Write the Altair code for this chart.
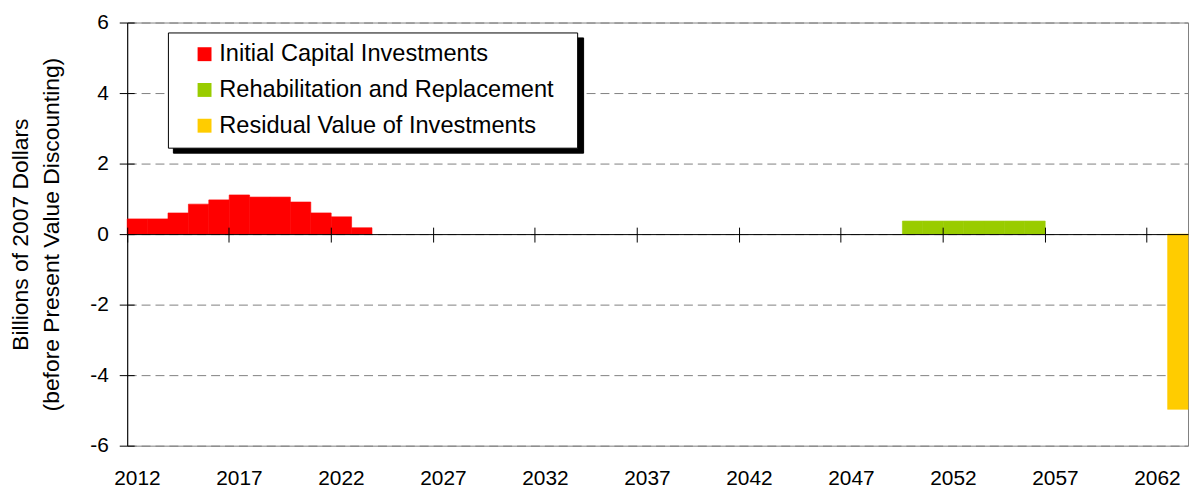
import altair as alt
import pandas as pd

# ---- data ----
all_years = list(range(2012, 2064))
label_years = [2012, 2017, 2022, 2027, 2032, 2037, 2042, 2047, 2052, 2057, 2062]

initial_years = [2012, 2013, 2014, 2015, 2016, 2017, 2018, 2019, 2020, 2021, 2022, 2023]
initial_values = [0.43, 0.43, 0.60, 0.85, 0.97, 1.11, 1.05, 1.05, 0.91, 0.60, 0.49, 0.18]

rehab_years = [2050, 2051, 2052, 2053, 2054, 2055, 2056]
rehab_values = [0.37, 0.37, 0.37, 0.37, 0.37, 0.37, 0.37]

residual_years = [2063]
residual_values = [-4.97]

series_names = ["Initial Capital Investments",
                "Rehabilitation and Replacement",
                "Residual Value of Investments"]
series_colors = ["#FF0000", "#99CC00", "#FFCC00"]

y_ticks = [-6, -4, -2, 0, 2, 4, 6]
y_title = ["Billions of 2007 Dollars", "(before Present Value Discounting)"]

# ---- table ----
rows = []
for yr, v in zip(initial_years, initial_values):
    rows.append({"year": yr, "value": v, "series": series_names[0]})
for yr, v in zip(rehab_years, rehab_values):
    rows.append({"year": yr, "value": v, "series": series_names[1]})
for yr, v in zip(residual_years, residual_values):
    rows.append({"year": yr, "value": v, "series": series_names[2]})
df = pd.DataFrame(rows)

W, H = 1068, 426
FONT = "Liberation Sans"
LFS = 23.75
PAD_R = 14  # extra room right of the legend text

xscale = alt.Scale(domain=all_years, paddingInner=0, paddingOuter=0)
yscale = alt.Scale(domain=[-6, 6], nice=False, zero=False)
cscale = alt.Scale(domain=series_names, range=series_colors)

legend_common = dict(
    orient="none", symbolType="square", symbolSize=196,
    symbolStrokeWidth=0, labelFont=FONT, labelFontSize=LFS, labelOffset=3,
    rowPadding=11, padding=10, symbolOffset=15, labelLimit=700,
    title="\u00a0", titleOrient="right", titleOpacity=0, titleFont=FONT,
    titleFontSize=LFS,
)
main_legend = alt.Legend(**legend_common, legendX=41, legendY=10,
                         fillColor="white", strokeColor="black",
                         labelColor="black", zindex=2, titlePadding=PAD_R)
# shadow box behind the legend: same box, no visible content
shadow_legend = alt.Legend(**legend_common, legendX=46, legendY=15,
                           fillColor="black", strokeColor="black",
                           labelExpr="''", labelOpacity=0, symbolOpacity=0,
                           zindex=1, titlePadding=PAD_R + 337)

bars = alt.Chart(df).mark_bar(strokeWidth=0.6).encode(
    x=alt.X("year:O", scale=xscale,
            axis=alt.Axis(values=label_years, orient="bottom", ticks=False,
                          tickSize=0, domain=False, grid=False, labelAngle=0,
                          labelFont=FONT, labelFontSize=21, labelColor="black",
                          labelPadding=22, title=None)),
    y=alt.Y("value:Q", scale=yscale,
            axis=alt.Axis(values=y_ticks, orient="left", grid=True,
                          gridColor="#808080", gridDash=[9, 5], gridWidth=1,
                          domainColor="black", tickColor="black", tickSize=8,
                          labelPadding=11, labelFont=FONT, labelFontSize=21,
                          labelColor="black",
                          labelExpr="datum.value < 0 ? '-' + abs(datum.value) : '' + datum.value",
                          title=y_title, titleFont=FONT,
                          titleFontSize=23, titleFontWeight="normal",
                          titleColor="black", titleLineHeight=32,
                          titlePadding=26)),
    color=alt.Color("series:N", scale=cscale, legend=main_legend),
    stroke=alt.Stroke("series:N", scale=cscale, legend=None),
)

shadow = alt.Chart(df).transform_calculate(series2="datum.series").mark_point(
    opacity=0).encode(
    x=alt.X("year:O", scale=xscale,
            axis=alt.Axis(values=label_years, orient="bottom", offset=-H / 2,
                          labels=False, ticks=True, bandPosition=0,
                          tickExtra=False, tickSize=8, tickColor="black",
                          domain=True, domainColor="black", grid=False,
                          title=None, zindex=1)),
    y=alt.Y("value:Q", scale=yscale,
            axis=alt.Axis(values=y_ticks, orient="right", offset=-W,
                          labels=False, ticks=True, tickSize=7,
                          tickColor="black", domain=False, grid=False,
                          title=None)),
    shape=alt.Shape("series2:N",
                    scale=alt.Scale(range=["square", "square", "square"]),
                    legend=shadow_legend),
)

top_ticks = alt.Chart(df).mark_point(opacity=0).encode(
    x=alt.X("year:O", scale=xscale,
            axis=alt.Axis(values=label_years, orient="top", offset=-H / 2,
                          labels=False, ticks=True, bandPosition=0,
                          tickExtra=False, tickSize=7, tickColor="black",
                          domain=False, grid=False, title=None, zindex=1)),
    y=alt.Y("value:Q", scale=yscale, axis=None),
)

chart = alt.layer(bars, shadow, top_ticks).resolve_axis(
    x="independent", y="independent"
).properties(
    width=W, height=H,
    autosize=alt.AutoSizeParams(type="none"),
    padding={"left": 120, "top": 13, "right": 1, "bottom": 42},
    background="white",
).configure_view(stroke="#808080", strokeWidth=1)

chart.save("out.html", embed_options={"renderer": "svg", "actions": False})
